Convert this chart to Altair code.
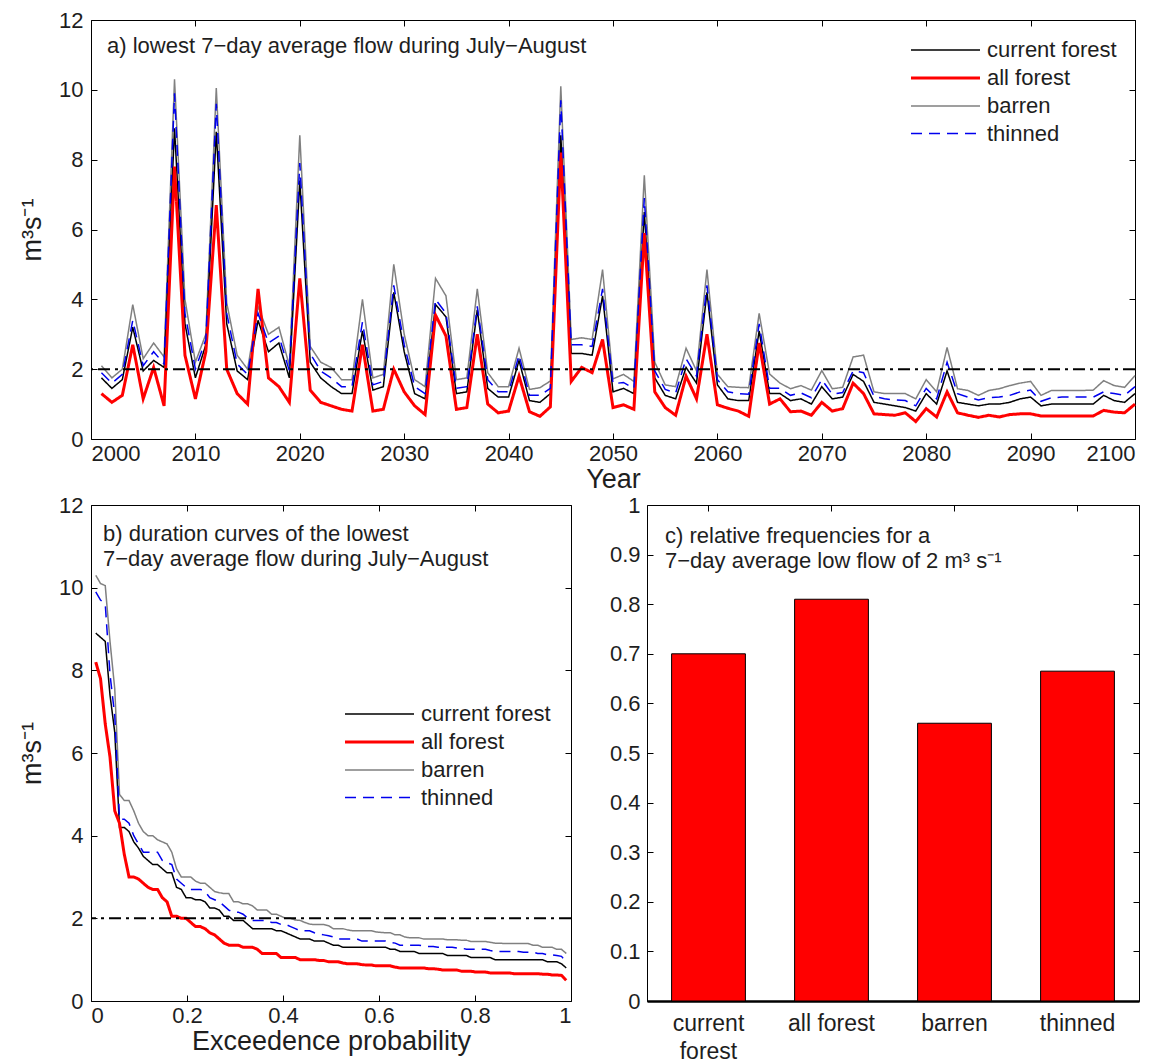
import altair as alt
import pandas as pd

# ---------------- data ----------------
YEARS = list(range(2001, 2101))
SCENARIOS = ["current forest", "all forest", "barren", "thinned"]

CURRENT_FOREST = [
    1.75, 1.45, 1.7, 3.2, 1.95, 2.25, 2.05, 8.9, 3.3, 1.75,
    2.7, 8.8, 3.3, 1.95, 1.7, 3.4, 2.5, 2.75, 1.75, 7.4,
    2.2, 1.75, 1.5, 1.3, 1.3, 3.1, 1.4, 1.5, 4.2, 2.5,
    1.3, 1.15, 3.85, 3.5, 1.3, 1.35, 3.7, 1.45, 1.2, 1.2,
    2.25, 1.1, 1.05, 1.3, 8.7, 2.45, 2.45, 2.4, 4.1, 1.35,
    1.45, 1.3, 6.5, 1.75, 1.25, 1.15, 2.05, 1.6, 4.2, 1.55,
    1.15, 1.1, 1.1, 3.1, 1.3, 1.3, 1.1, 1.15, 1.0, 1.5,
    1.15, 1.2, 1.85, 1.65, 1.05, 1.0, 0.95, 0.9, 0.8, 1.3,
    1.0, 1.95, 1.05, 1.0, 0.95, 1.0, 1.0, 1.05, 1.15, 1.2,
    0.95, 1.0, 1.0, 1.0, 1.0, 1.0, 1.25, 1.1, 1.05, 1.3,
]
ALL_FOREST = [
    1.3, 1.05, 1.25, 2.7, 1.15, 2.05, 0.95, 7.8, 2.4, 1.15,
    2.5, 6.7, 2.0, 1.3, 1.0, 4.3, 1.75, 1.5, 1.05, 4.6,
    1.4, 1.05, 0.95, 0.85, 0.8, 2.7, 0.8, 0.85, 2.0, 1.35,
    0.95, 0.7, 3.55, 2.95, 0.85, 0.9, 3.0, 1.0, 0.75, 0.8,
    1.8, 0.78, 0.65, 0.92, 8.2, 1.65, 2.05, 1.9, 2.85, 0.9,
    0.98, 0.85, 5.9, 1.35, 0.9, 0.68, 1.8, 1.15, 3.0, 0.98,
    0.88, 0.8, 0.65, 2.75, 1.0, 1.15, 0.78, 0.8, 0.68, 1.05,
    0.8, 0.87, 1.6, 1.3, 0.72, 0.7, 0.68, 0.75, 0.5, 0.87,
    0.63, 1.35, 0.75, 0.68, 0.62, 0.68, 0.63, 0.7, 0.72, 0.72,
    0.66, 0.66, 0.66, 0.66, 0.66, 0.66, 0.82, 0.77, 0.75, 1.0,
]
BARREN = [
    2.1, 1.75, 2.0, 3.85, 2.3, 2.75, 2.35, 10.3, 4.0, 2.2,
    3.0, 10.05, 3.9, 2.4, 2.0, 3.8, 3.0, 3.2, 2.1, 8.7,
    2.65, 2.2, 2.05, 1.7, 1.7, 4.0, 1.75, 1.85, 5.0, 3.0,
    1.7, 1.5, 4.6, 4.1, 1.7, 1.75, 4.3, 1.9, 1.5, 1.5,
    2.6, 1.42, 1.47, 1.66, 10.1, 2.85, 2.9, 2.85, 4.85, 1.72,
    1.85, 1.65, 7.55, 2.2, 1.55, 1.5, 2.6, 1.95, 4.85, 1.85,
    1.5, 1.48, 1.47, 3.6, 1.86, 1.6, 1.44, 1.53, 1.4, 1.96,
    1.44, 1.48, 2.35, 2.4, 1.35, 1.3, 1.3, 1.3, 1.15, 1.7,
    1.35, 2.62, 1.44, 1.39, 1.25, 1.39, 1.44, 1.53, 1.6, 1.65,
    1.25, 1.39, 1.39, 1.39, 1.39, 1.4, 1.67, 1.53, 1.48, 1.82,
]
THINNED = [
    1.9, 1.6, 1.85, 3.4, 2.1, 2.5, 2.15, 9.9, 3.6, 2.0,
    2.85, 9.6, 3.6, 2.15, 1.85, 3.6, 2.75, 2.95, 1.95, 7.9,
    2.45, 1.95, 1.75, 1.5, 1.5, 3.35, 1.55, 1.65, 4.4, 2.7,
    1.5, 1.3, 4.0, 3.6, 1.45, 1.5, 3.8, 1.7, 1.35, 1.35,
    2.4, 1.25, 1.25, 1.45, 9.7, 2.7, 2.7, 2.65, 4.3, 1.58,
    1.62, 1.45, 6.9, 1.95, 1.42, 1.32, 2.3, 1.8, 4.4, 1.7,
    1.35, 1.3, 1.28, 3.3, 1.45, 1.45, 1.25, 1.32, 1.18, 1.7,
    1.28, 1.33, 1.95, 1.9, 1.22, 1.15, 1.12, 1.1, 0.95, 1.45,
    1.15, 2.2, 1.3, 1.2, 1.12, 1.18, 1.2, 1.25, 1.35, 1.4,
    1.08, 1.18, 1.2, 1.2, 1.2, 1.2, 1.35, 1.3, 1.25, 1.5,
]
REL_FREQ = [0.70, 0.81, 0.56, 0.665]
THRESHOLD = 2

TITLE_A = "a) lowest 7\u2212day average flow during July\u2212August"
TITLE_B = "b) duration curves of the lowest\n7\u2212day average flow during July\u2212August"
TITLE_C = "c) relative frequencies for a\n7\u2212day average low flow of 2 m\u00b3 s\u207b\u00b9"
UNIT = "m\u00b3s\u207b\u00b9"

# ---------------- styles ----------------
FONT = "Liberation Sans"
TXT = "#1e1e1e"
COLORS = ["#000000", "#ff0000", "#808080", "#0000ee"]
WIDTHS = [1.5, 3.0, 1.5, 1.5]
DASHES = [[1, 0], [1, 0], [1, 0], [11, 7]]
TICK = 6

rows = []
for name, vals in [("barren", BARREN), ("current forest", CURRENT_FOREST),
                   ("all forest", ALL_FOREST), ("thinned", THINNED)]:
    for yr, v in zip(YEARS, vals):
        rows.append({"year": yr, "flow": v, "scenario": name})
df = pd.DataFrame(rows)
df_thr = pd.DataFrame({"t": [THRESHOLD]})
df_c = pd.DataFrame({"scenario": SCENARIOS, "freq": REL_FREQ})


def legend(x, y):
    return alt.Legend(title=None, orient="none", legendX=x, legendY=y,
                      symbolType="M-3.45,0L3.45,0", symbolSize=400,
                      labelOffset=30, rowPadding=5.5, padding=0,
                      labelFontSize=22, labelFont=FONT, labelColor=TXT)


def series_enc(leg):
    return dict(
        color=alt.Color("scenario:N", scale=alt.Scale(domain=SCENARIOS, range=COLORS), legend=leg),
        strokeWidth=alt.StrokeWidth("scenario:N",
                                    scale=alt.Scale(type="ordinal", domain=SCENARIOS, range=WIDTHS),
                                    legend=leg),
        strokeDash=alt.StrokeDash("scenario:N",
                                  scale=alt.Scale(type="ordinal", domain=SCENARIOS, range=DASHES),
                                  legend=leg),
    )


def ghost_axis(**kw):
    return alt.Axis(labels=False, title=None, domain=False, offset=-TICK, **kw)


def thr_rule(ydom):
    return alt.Chart(df_thr).mark_rule(color="black", strokeWidth=2, strokeDash=[12, 5, 3, 5]).encode(
        y=alt.Y("t:Q", scale=alt.Scale(domain=ydom, nice=False), axis=None))


def note(text, x, y):
    return alt.Chart(pd.DataFrame({"t": [text]})).mark_text(
        align="left", baseline="top", fontSize=22, font=FONT, color=TXT, lineBreak="\n", lineHeight=25
    ).encode(x=alt.value(x), y=alt.value(y), text="t:N")


# ---------------- panel a ----------------
XA_VALS = list(range(2000, 2101, 10))
Y_VALS = list(range(0, 13, 2))
xa_scale = alt.Scale(domain=[2000, 2100], nice=False, zero=False)
y_scale = alt.Scale(domain=[0, 12], nice=False)

lines_a = alt.Chart(df).mark_line().encode(
    x=alt.X("year:Q", scale=xa_scale,
            axis=alt.Axis(values=XA_VALS, format="d", title="Year", offset=-TICK,
                          labelPadding=4, titlePadding=2)),
    y=alt.Y("flow:Q", scale=y_scale,
            axis=alt.Axis(values=Y_VALS, title=UNIT, offset=-TICK, labelPadding=8, titlePadding=12)),
    **series_enc(legend(843, 19)),
)
ghost_a = alt.Chart(df).mark_point(opacity=0).encode(
    x=alt.X("year:Q", scale=xa_scale, axis=ghost_axis(orient="top", values=XA_VALS)),
    y=alt.Y("flow:Q", scale=y_scale, axis=ghost_axis(orient="right", values=Y_VALS)),
)
panel_a = alt.layer(lines_a, ghost_a, thr_rule([0, 12]), note(TITLE_A, 16, 16)).resolve_axis(
    x="independent", y="independent").properties(width=1044, height=419)

# ---------------- panel b ----------------
XB_VALS = [0, 0.2, 0.4, 0.6, 0.8, 1]
xb_scale = alt.Scale(domain=[0, 1], nice=False)
base_b = alt.Chart(df).transform_joinaggregate(
    n="count()", groupby=["scenario"]
).transform_window(
    r="row_number()", sort=[alt.SortField("flow", order="descending")], groupby=["scenario"]
).transform_calculate(p="datum.r / (datum.n + 1)")

lines_b = base_b.mark_line().encode(
    x=alt.X("p:Q", scale=xb_scale,
            axis=alt.Axis(values=XB_VALS, format="~g", title="Exceedence probability",
                          offset=-TICK, labelPadding=4, titlePadding=2)),
    y=alt.Y("flow:Q", scale=y_scale,
            axis=alt.Axis(values=Y_VALS, title=UNIT, offset=-TICK, labelPadding=8, titlePadding=12)),
    **series_enc(legend(277, 198)),
)
ghost_b = base_b.mark_point(opacity=0).encode(
    x=alt.X("p:Q", scale=xb_scale, axis=ghost_axis(orient="top", values=XB_VALS)),
    y=alt.Y("flow:Q", scale=y_scale, axis=ghost_axis(orient="right", values=Y_VALS)),
)
panel_b = alt.layer(lines_b, ghost_b, thr_rule([0, 12]), note(TITLE_B, 12, 19)).resolve_axis(
    x="independent", y="independent").properties(width=480, height=496)

# ---------------- panel c ----------------
YC_VALS = [0, 0.1, 0.2, 0.3, 0.4, 0.5, 0.6, 0.7, 0.8, 0.9, 1]
xc_scale = alt.Scale(domain=SCENARIOS, paddingInner=0.4, paddingOuter=0.2)
yc_scale = alt.Scale(domain=[0, 1], nice=False)
bars = alt.Chart(df_c).mark_bar(color="#ff0000", stroke="black", strokeWidth=1).encode(
    x=alt.X("scenario:N", scale=xc_scale, sort=SCENARIOS,
            axis=alt.Axis(title=None, labelAngle=0, ticks=False, domain=True, domainWidth=2.5,
                          domainColor="black", labelPadding=22, labelBaseline="middle",
                          labelFontSize=23, labelLineHeight=28,
                          labelExpr="datum.label == 'current forest' ? ['current', 'forest'] : datum.label")),
    y=alt.Y("freq:Q", scale=yc_scale,
            axis=alt.Axis(values=YC_VALS, format="~g", title=None, offset=-TICK, labelPadding=7)),
)
ghost_c = alt.Chart(df_c).mark_point(opacity=0).encode(
    x=alt.X("scenario:N", scale=xc_scale, sort=SCENARIOS, axis=ghost_axis(orient="top")),
    y=alt.Y("freq:Q", scale=yc_scale, axis=ghost_axis(orient="right", values=YC_VALS)),
)
panel_c = alt.layer(bars, ghost_c, note(TITLE_C, 18, 21)).resolve_axis(
    x="independent", y="independent").properties(width=492, height=496)

chart = alt.vconcat(
    panel_a,
    alt.hconcat(panel_b, panel_c, spacing=35),
    spacing=0,
).resolve_scale(
    color="independent", strokeWidth="independent", strokeDash="independent"
).resolve_legend(
    color="independent", strokeWidth="independent", strokeDash="independent"
).properties(
    padding={"left": 10, "top": 0, "right": 0, "bottom": 0}
).configure_view(
    stroke="black", strokeWidth=1
).configure_axis(
    labelFont=FONT, titleFont=FONT, labelFontSize=22, titleFontSize=27,
    titleFontWeight="normal", labelColor=TXT, titleColor=TXT,
    tickColor="black", tickSize=TICK, tickWidth=1, grid=False, domain=False,
)

chart.save("out.html", embed_options={"renderer": "svg", "actions": False})
